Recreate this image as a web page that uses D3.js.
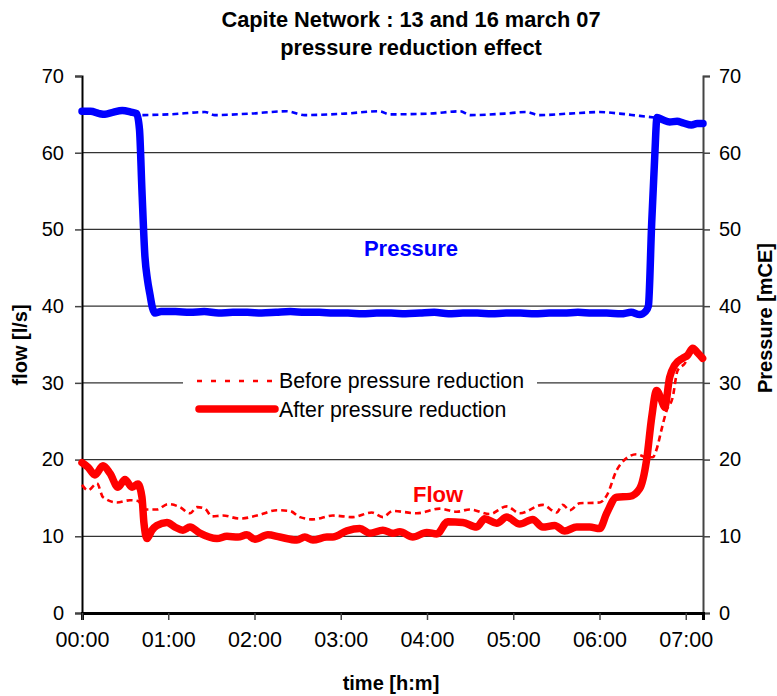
<!DOCTYPE html>
<html>
<head>
<meta charset="utf-8">
<script src="https://cdn.jsdelivr.net/npm/d3@7"></script>
<style>
  body { margin: 0; background: #fff; }
  svg { display: block; font-family: "Liberation Sans", Arial, sans-serif; }
</style>
</head>
<body>
<div id="chart"></div>
<script>
// time in minutes from 00:00
var pressureAfter = [
  [0,65.4],[6,65.4],[12,65.1],[16,65.0],[22,65.3],[28,65.5],[34,65.3],[38,65.1],
  [40,63.0],[41.7,55.1],[43.8,46.4],[45.5,43.5],[47.3,41.5],[49,39.8],[50.8,39.1],
  [55,39.3],[65,39.3],[75,39.2],[85,39.3],[95,39.1],[105,39.2],[115,39.2],[125,39.1],
  [135,39.2],[145,39.3],[155,39.2],[165,39.2],[175,39.1],[185,39.1],[195,39.0],
  [205,39.1],[215,39.1],[225,39.0],[235,39.1],[245,39.2],[255,39.0],[265,39.1],
  [275,39.1],[285,39.0],[295,39.1],[305,39.1],[315,39.0],[325,39.1],[335,39.1],
  [345,39.2],[355,39.1],[365,39.1],[375,39.0],[382,39.2],[388,38.9],[392,39.3],
  [394,40.0],[396.3,50.8],[398.4,59.4],[400,64.6],[404,64.3],[408.8,64.0],[414,64.1],
  [418,63.9],[424,63.6],[428,63.8],[432,63.8]
];
var pressureBefore = [
  [42,64.9],[61,65.0],[85.5,65.3],[92.5,64.9],[117,65.1],[142.5,65.4],[155,64.9],
  [183,65.1],[207,65.4],[214,65.0],[242,65.1],[263,65.4],[270,64.9],[294,65.1],
  [309,65.3],[318,64.9],[339,65.1],[360,65.3],[374,65.1],[388,64.8],[398,64.6]
];
var flowAfter = [
  [0,19.6],[4.2,19.0],[9,18.0],[14.6,19.2],[19.5,18.2],[25,16.4],[29.9,17.4],[34.8,16.4],
  [38.9,16.8],[41.7,15.1],[43.1,11.7],[45.2,9.7],[48.7,10.8],[52.1,11.4],[59.1,11.8],
  [64.7,11.2],[70.2,10.8],[75.1,11.2],[82,10.4],[93.9,9.7],[100.8,10.0],[108.5,9.9],
  [114.7,10.2],[120.3,9.6],[129.3,10.2],[137.6,9.9],[149.5,9.5],[155,9.9],[160.6,9.5],
  [170.3,9.9],[174.5,9.9],[184.2,10.7],[193.3,11.0],[200.2,10.4],[209.3,10.8],
  [216.2,10.4],[221.1,10.6],[230.1,9.9],[239.8,10.5],[246.8,10.3],[254.4,11.9],
  [264.9,11.8],[274.6,11.2],[280.2,12.3],[288.5,11.7],[295.5,12.5],[304.5,11.6],
  [313.5,12.2],[320.5,11.2],[328.8,11.4],[335.8,10.7],[344.1,11.2],[353.2,11.2],
  [360.1,11.0],[365,13.0],[371.9,15.1],[381,15.2],[387.9,16.2],[392.8,20.0],
  [396.3,25.5],[399.7,29.0],[403.2,27.7],[405.3,26.8],[408.8,30.7],[412.3,32.3],
  [417.8,33.2],[421.3,33.6],[424.8,34.5],[428.3,33.9],[431.7,33.2]
];
var flowBefore = [
  [0,16.7],[4.2,16.0],[10.4,16.9],[14.6,15.1],[24.3,14.4],[33.4,14.7],[38.9,14.6],
  [43.8,13.5],[52.1,13.5],[59.8,14.2],[68.1,13.8],[75.1,13.0],[80,13.8],[85.5,13.6],
  [90.4,12.6],[98,12.7],[109.8,12.3],[121.7,12.7],[135.6,13.4],[144.6,13.3],
  [151.6,12.5],[160.6,12.2],[174.5,12.7],[188.4,12.5],[201.6,13.1],[209.3,12.5],
  [216.2,13.3],[232.9,13.0],[248.9,13.6],[260.7,13.2],[269.7,13.5],[283.6,12.9],
  [295.5,13.9],[304.5,13.0],[320.5,14.1],[330.2,13.1],[334.4,14.1],[339.3,13.4],
  [346.2,14.3],[360.1,14.4],[365,15.3],[371.9,18.6],[378.9,20.2],[385.8,20.7],
  [392.8,20.3],[397,20.3],[400,21.5],[403,23.8],[406.7,26.4],[410.9,28.1],
  [414.3,31.6],[419.2,32.5],[424.8,34.2],[431,33.3]
];

var timeTicks = [0, 60, 120, 180, 240, 300, 360, 420];
var timeLabels = ['00:00','01:00','02:00','03:00','04:00','05:00','06:00','07:00'];
var valueTicks = [0, 10, 20, 30, 40, 50, 60, 70];
var legendLabels = ['Before pressure reduction', 'After pressure reduction'];

var width = 777, height = 696;
var margin = {top: 76, right: 74, bottom: 83, left: 82};

var svg = d3.select('#chart').append('svg')
  .attr('width', width)
  .attr('height', height);

//Escalas: el tiempo va de 00:00 a 07:12
var x = d3.scaleLinear().domain([0, 432]).range([margin.left, width - margin.right]);
var y = d3.scaleLinear().domain([0, 70]).range([height - margin.bottom, margin.top]);

//Lineas de la rejilla
svg.append('g')
  .selectAll('line')
  .data(valueTicks.filter(function(v) { return v > 0 && v < 70; }))
  .enter().append('line')
  .attr('x1', x(0)).attr('x2', x(432))
  .attr('y1', function(d) { return y(d); })
  .attr('y2', function(d) { return y(d); })
  .attr('stroke', '#333')
  .attr('stroke-width', 1.2);

//Ejes
var leftAxis = svg.append('g')
  .attr('transform', 'translate(' + x(0) + ',0)')
  .call(d3.axisLeft(y).tickValues(valueTicks).tickSize(7).tickPadding(11));
var rightAxis = svg.append('g')
  .attr('transform', 'translate(' + x(432) + ',0)')
  .call(d3.axisRight(y).tickValues(valueTicks).tickSize(7).tickPadding(9));
var bottomAxis = svg.append('g')
  .attr('transform', 'translate(0,' + y(0) + ')')
  .call(d3.axisBottom(x).tickValues(timeTicks).tickSize(7).tickPadding(12)
    .tickFormat(function(d, i) { return timeLabels[i]; }));

[leftAxis, rightAxis].forEach(function(g) {
  g.selectAll('text').style('font-size', '20px').attr('fill', '#000');
});
bottomAxis.selectAll('text').style('font-size', '21.5px').attr('fill', '#000');
[leftAxis, rightAxis, bottomAxis].forEach(function(g) {
  g.selectAll('.tick line').attr('stroke', '#444').attr('stroke-width', 1.5);
});
leftAxis.select('.domain').attr('stroke', '#000').attr('stroke-width', 2);
rightAxis.select('.domain').attr('stroke', '#444').attr('stroke-width', 2);
bottomAxis.select('.domain').attr('stroke', '#000').attr('stroke-width', 3);

//Series
var line = d3.line()
  .x(function(d) { return x(d[0]); })
  .y(function(d) { return y(d[1]); })
  .curve(d3.curveMonotoneX);

function drawSeries(data, color, thick) {
  svg.append('path')
    .datum(data)
    .attr('fill', 'none')
    .attr('stroke', color)
    .attr('stroke-width', thick ? 7.5 : 2.6)
    .attr('stroke-dasharray', thick ? null : '6,4')
    .attr('stroke-linejoin', 'round')
    .attr('stroke-linecap', thick ? 'round' : 'butt')
    .attr('d', line);
}

drawSeries(pressureBefore, '#0000ff', false);
drawSeries(flowBefore, '#ff0000', false);
drawSeries(pressureAfter, '#0000ff', true);
drawSeries(flowAfter, '#ff0000', true);

//Leyenda
var legend = svg.append('g').attr('transform', 'translate(183,364)');
legend.append('rect')
  .attr('width', 354).attr('height', 60)
  .attr('fill', '#fff');
legend.append('line')
  .attr('x1', 14).attr('x2', 92).attr('y1', 17).attr('y2', 17)
  .attr('stroke', '#ff0000').attr('stroke-width', 2.6).attr('stroke-dasharray', '5,9');
legend.append('line')
  .attr('x1', 16).attr('x2', 92).attr('y1', 45).attr('y2', 45)
  .attr('stroke', '#ff0000').attr('stroke-width', 7.5).attr('stroke-linecap', 'round');
legend.selectAll('text.leg')
  .data(legendLabels)
  .enter().append('text')
  .attr('class', 'leg')
  .attr('x', 96)
  .attr('y', function(d, i) { return 24 + i * 29; })
  .style('font-size', '21.3px')
  .text(function(d) { return d; });

//Etiquetas de las series
svg.append('text')
  .attr('x', 411).attr('y', 256)
  .attr('text-anchor', 'middle')
  .attr('fill', '#0000ff')
  .style('font-size', '22px').style('font-weight', 'bold')
  .text('Pressure');
svg.append('text')
  .attr('x', 438).attr('y', 502)
  .attr('text-anchor', 'middle')
  .attr('fill', '#ff0000')
  .style('font-size', '22px').style('font-weight', 'bold')
  .text('Flow');

//Titulos
svg.append('text')
  .attr('x', 411).attr('y', 27)
  .attr('text-anchor', 'middle')
  .style('font-size', '21.8px').style('font-weight', 'bold')
  .text('Capite Network : 13 and 16 march 07');
svg.append('text')
  .attr('x', 411).attr('y', 55)
  .attr('text-anchor', 'middle')
  .style('font-size', '21.8px').style('font-weight', 'bold')
  .text('pressure reduction effect');
svg.append('text')
  .attr('x', 391).attr('y', 690)
  .attr('text-anchor', 'middle')
  .style('font-size', '20px').style('font-weight', 'bold')
  .text('time [h:m]');
svg.append('text')
  .attr('transform', 'translate(27,345) rotate(-90)')
  .attr('text-anchor', 'middle')
  .style('font-size', '20px').style('font-weight', 'bold')
  .text('flow [l/s]');
svg.append('text')
  .attr('transform', 'translate(772,318) rotate(-90)')
  .attr('text-anchor', 'middle')
  .style('font-size', '20px').style('font-weight', 'bold')
  .text('Pressure [mCE]');
</script>
</body>
</html>
